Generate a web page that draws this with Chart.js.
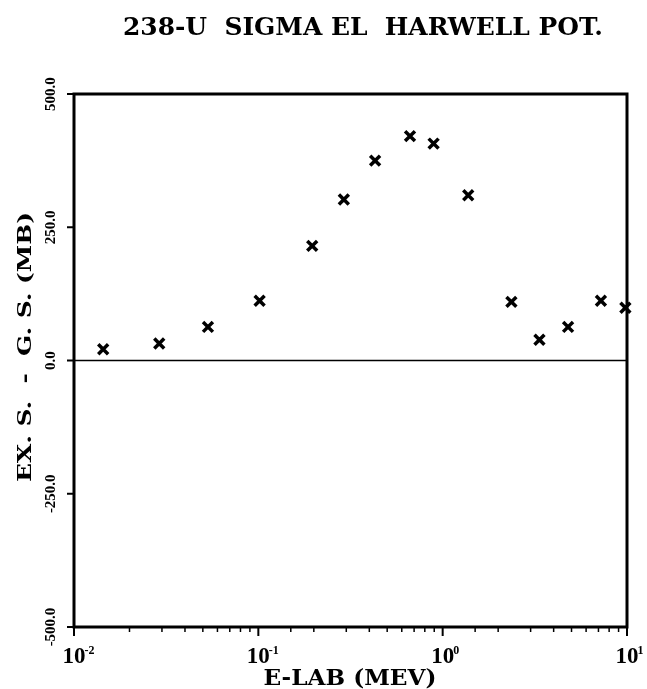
<!DOCTYPE html>
<html>
<head>
<meta charset="utf-8">
<script src="https://cdn.jsdelivr.net/npm/chart.js@4"></script>
<style>
  html, body { margin: 0; padding: 0; background: #fff; }
  canvas { display: block; }
</style>
</head>
<body>
<canvas id="sigmaChart" width="647" height="689"></canvas>
<script>
// 238-U elastic excess cross section (Harwell potential).
const energies = [0.0144, 0.029, 0.0533, 0.1016, 0.196, 0.291, 0.430, 0.665, 0.893, 1.376, 2.36, 3.35, 4.79, 7.22, 9.8];
const sigmaDiff = [21, 32, 63, 112, 215, 302, 375, 421, 407, 310, 110, 39, 63, 112, 99];

const yTickValues = [-500, -250, 0, 250, 500];
const yTickLabels = ['-500.0', '-250.0', '0.0', '250.0', '500.0'];
const xDecades = [0.01, 0.1, 1, 10];
const xExponents = ['-2', '-1', '0', '1'];

const titleText = '238-U  SIGMA EL  HARWELL POT.';
const xTitleText = 'E-LAB (MEV)';
const yTitleText = 'EX. S.  -  G. S. (MB)';

// draw text squeezed/stretched to a given width, optionally rotated
function fitText(ctx, text, x, y, width, font, rot) {
    ctx.save();
    ctx.font = font;
    const w = ctx.measureText(text).width;
    ctx.translate(x, y);
    if (rot) ctx.rotate(rot);
    ctx.scale(width / w, 1);
    ctx.textAlign = 'center';
    ctx.textBaseline = 'alphabetic';
    ctx.fillText(text, 0, 0);
    ctx.restore();
}

const framePlugin = {
    id: 'frame',
    beforeDatasetsDraw(chart) {
        const { ctx, chartArea: a, scales: { y } } = chart;
        const y0 = y.getPixelForValue(0);
        ctx.save();
        ctx.strokeStyle = '#000';
        ctx.lineWidth = 1.5;
        ctx.beginPath();
        ctx.moveTo(a.left, y0);
        ctx.lineTo(a.right, y0);
        ctx.stroke();
        ctx.restore();
    },
    afterDraw(chart) {
        const { ctx, chartArea: a, scales: { x, y } } = chart;
        ctx.save();
        ctx.strokeStyle = '#000';
        ctx.fillStyle = '#000';
        ctx.lineWidth = 3;
        ctx.strokeRect(a.left, a.top, a.right - a.left, a.bottom - a.top);

        // y ticks, outward
        ctx.lineWidth = 2;
        yTickValues.forEach(v => {
            const py = y.getPixelForValue(v);
            ctx.beginPath();
            ctx.moveTo(a.left, py);
            ctx.lineTo(a.left - 7, py);
            ctx.stroke();
        });

        // x ticks from the log scale, major longer
        x.ticks.forEach(t => {
            const px = x.getPixelForValue(t.value);
            const major = Math.abs(Math.log10(t.value) - Math.round(Math.log10(t.value))) < 1e-6;
            ctx.lineWidth = major ? 2 : 1.5;
            ctx.beginPath();
            ctx.moveTo(px, a.bottom);
            ctx.lineTo(px, a.bottom + (major ? 9 : 5));
            ctx.stroke();
        });

        // y tick labels, rotated
        ctx.font = 'bold 15px "Liberation Serif"';
        ctx.textAlign = 'center';
        ctx.textBaseline = 'alphabetic';
        yTickValues.forEach((v, i) => {
            const py = y.getPixelForValue(v);
            ctx.save();
            ctx.translate(55, py);
            ctx.rotate(-Math.PI / 2);
            ctx.fillText(yTickLabels[i], 0, 0);
            ctx.restore();
        });

        // x decade labels 10^n
        xDecades.forEach((v, i) => {
            const px = x.getPixelForValue(v);
            ctx.font = 'bold 23px "Liberation Serif"';
            ctx.textAlign = 'center';
            ctx.fillText('10', px, 663);
            const w = ctx.measureText('10').width;
            ctx.font = 'bold 12px "Liberation Serif"';
            ctx.textAlign = 'left';
            ctx.fillText(xExponents[i], px + w / 2 - 1, 654);
        });

        // titles
        fitText(ctx, titleText, 363, 35, 480, 'bold 25px "DejaVu Serif"');
        fitText(ctx, xTitleText, 350, 685, 173, 'bold 22px "DejaVu Serif"');
        fitText(ctx, yTitleText, 31, 347, 270, 'bold 19px "DejaVu Serif"', -Math.PI / 2);
        ctx.restore();
    }
};

new Chart(document.getElementById('sigmaChart').getContext('2d'), {
    type: 'scatter',
    data: {
        datasets: [{
            data: energies.map((e, i) => ({ x: e, y: sigmaDiff[i] })),
            pointStyle: 'crossRot',
            pointRadius: 7,
            pointBorderWidth: 3.5,
            borderColor: '#000',
            backgroundColor: '#000',
            clip: false
        }]
    },
    options: {
        responsive: false,
        animation: false,
        devicePixelRatio: 1,
        layout: { padding: { top: 94, right: 20, left: 0, bottom: 0 } },
        plugins: { legend: { display: false }, tooltip: { enabled: false } },
        scales: {
            x: {
                type: 'logarithmic',
                min: 0.01,
                max: 10,
                grid: { display: false },
                border: { display: false },
                ticks: { display: false, autoSkip: false },
                afterFit: s => { s.height = 62; }
            },
            y: {
                min: -500,
                max: 500,
                grid: { display: false },
                border: { display: false },
                ticks: { display: false, stepSize: 250 },
                afterFit: s => { s.width = 74; }
            }
        }
    },
    plugins: [framePlugin]
});
</script>
</body>
</html>
